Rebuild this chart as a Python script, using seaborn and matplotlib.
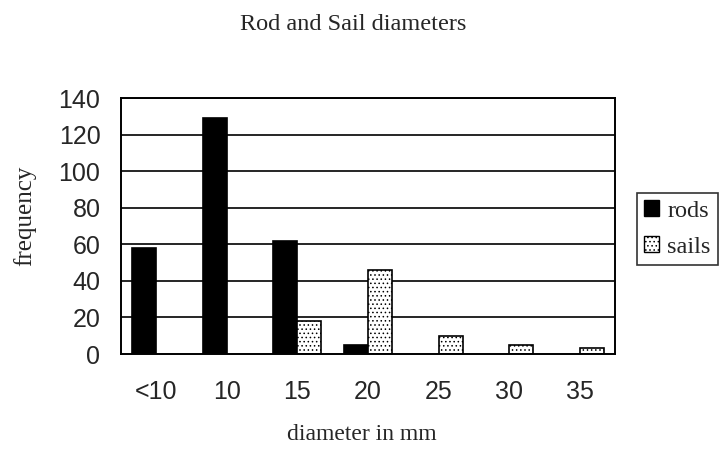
import matplotlib
matplotlib.use("Agg")
import matplotlib.pyplot as plt
import seaborn as sns
import pandas as pd
from matplotlib.patches import Patch

categories = ["<10", "10", "15", "20", "25", "30", "35"]
rods = [58, 129, 62, 5, 0, 0, 0]
sails = [0, 0, 18, 46, 10, 5, 3.5]
series_names = ["rods", "sails"]
yticks = [0, 20, 40, 60, 80, 100, 120, 140]

df = pd.DataFrame({
    "diameter": categories * 2,
    "frequency": rods + sails,
    "series": [series_names[0]] * len(categories) + [series_names[1]] * len(categories),
})

sns.set_style("white")
plt.rcParams["hatch.linewidth"] = 0.6
fig = plt.figure(figsize=(7.2, 4.5), dpi=100)
ax = fig.add_axes([121 / 720, 1 - 354 / 450, (615 - 121) / 720, (354 - 98) / 450])

sns.barplot(data=df, x="diameter", y="frequency", hue="series", order=categories,
            hue_order=series_names, palette=["black", "white"], width=0.68,
            edgecolor="black", linewidth=1.2, ax=ax, legend=False, saturation=1)

n = len(categories)
for i, p in enumerate(ax.patches):
    if i >= n:
        p.set_hatch("....")
        p.set_facecolor("white")
    if p.get_height() == 0:
        p.set_visible(False)

ax.set_ylim(0, 140)
ax.set_xlim(-0.5, n - 0.5)
ax.set_yticks(yticks)
ax.set_yticklabels([str(v) for v in yticks], family="Liberation Sans", fontsize=18)
for v in yticks[1:]:
    ax.axhline(v, color="black", linewidth=1.2, zorder=0)

ax.set_xticks([i - 0.5 for i in range(n + 1)], minor=False)
ax.set_xticklabels([""] * (n + 1))
ax.set_xticks(range(n), minor=True)
ax.set_xticklabels(categories, minor=True, family="Liberation Sans", fontsize=18)
ax.tick_params(axis="x", which="major", direction="out", length=6.5, width=1.2, color="black")
ax.tick_params(axis="x", which="minor", length=0, pad=19)
ax.tick_params(axis="y", direction="out", length=5.8, width=1.2, color="black", pad=9)

for s in ax.spines.values():
    s.set_visible(True)
    s.set_color("black")
    s.set_linewidth(1.4)

ax.set_xlabel("")
ax.set_ylabel("")
fig.text(353 / 720, 1 - 24 / 450, "Rod and Sail diameters", ha="center", va="center",
         family="Liberation Serif", fontsize=17.5)
fig.text(362 / 720, 1 - 435 / 450, "diameter in mm", ha="center", va="center",
         family="Liberation Serif", fontsize=17)
fig.text(25 / 720, 1 - 216 / 450, "frequency", ha="center", va="center", rotation=90,
         family="Liberation Serif", fontsize=18)

handles = [Patch(facecolor="black", edgecolor="black", label="rods"),
           Patch(facecolor="white", edgecolor="black", hatch="....", label="sails")]
leg = fig.legend(handles=handles, loc="center left", bbox_to_anchor=(637 / 720, 1 - 229 / 450),
                 prop={"family": "Liberation Serif", "size": 17.5}, frameon=True, fancybox=False,
                 handlelength=0.6, handleheight=0.6, handletextpad=0.35, borderpad=0.3,
                 labelspacing=0.6, borderaxespad=0)
leg.get_frame().set_edgecolor("black")
leg.get_frame().set_linewidth(1.2)

fig.savefig("out.png", dpi=100)
